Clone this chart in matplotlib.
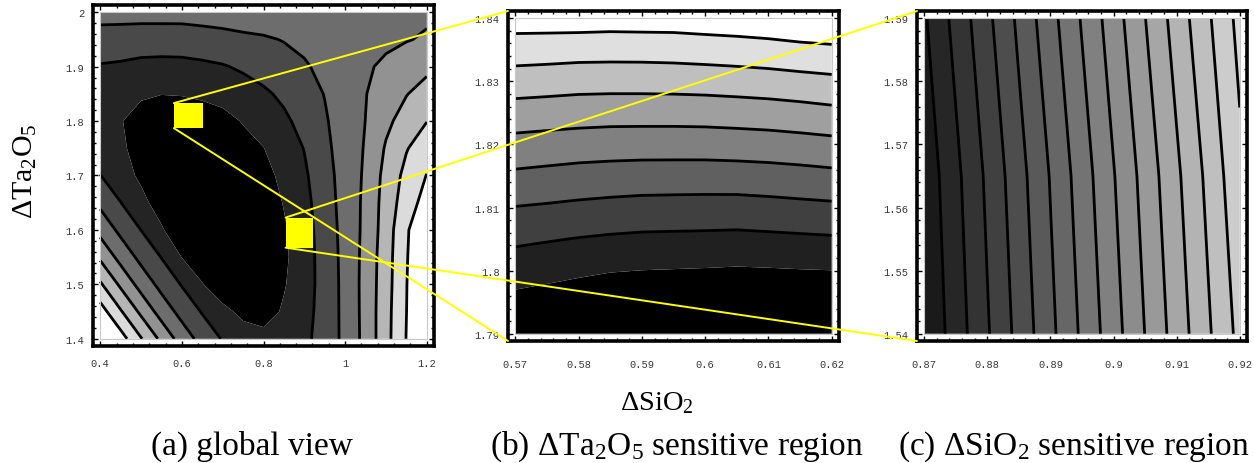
import numpy as np
import matplotlib
matplotlib.use("Agg")
import matplotlib.pyplot as plt
from matplotlib.patches import Rectangle, ConnectionPatch
from matplotlib.ticker import AutoMinorLocator

plt.rcParams["font.family"] = ["Liberation Serif", "DejaVu Serif"]
plt.rcParams["mathtext.fontset"] = "custom"
plt.rcParams["mathtext.rm"] = "Liberation Serif"
plt.rcParams["mathtext.it"] = "Liberation Serif:italic"

# ---------------------------------------------------------------- data
# (a) global view: merit-function level over dSiO2 (x) and dTa2O5 (y)
a_x = np.linspace(0.40, 1.20, 17)
a_y = np.linspace(1.40, 2.00, 13)
a_z = np.array([
    [7.2, 6.43, 5.07, 3.77, 2.55, 1.65, 0.93, 0.55, 0.3, 0.45, 0.8, 1.37, 2.27, 3.3, 4.67, 6.03, 7.3],
    [6.45, 5.1, 3.79, 2.58, 1.67, 0.93, 0.33, -0.285, -0.4, 0.12, 0.68, 1.37, 2.28, 3.32, 4.65, 5.99, 7.2],
    [5.14, 3.82, 2.62, 1.7, 0.94, 0.06, -0.76, -0.95, -0.9, -0.076, 0.6, 1.37, 2.29, 3.33, 4.59, 5.97, 7.1],
    [3.84, 2.66, 1.73, 0.97, -0.02, -0.7, -1.0, -1.05, -0.95, -0.18, 0.58, 1.4, 2.31, 3.3, 4.56, 5.93, 7.0],
    [2.69, 1.76, 0.99, 0.12, -0.76, -1.0, -1.05, -1.0, -0.85, -0.13, 0.62, 1.45, 2.34, 3.24, 4.48, 5.89, 6.8],
    [1.79, 1.02, 0.29, -0.45, -0.8, -0.95, -0.95, -0.85, -0.62, 0.056, 0.71, 1.54, 2.38, 3.21, 4.42, 5.51, 6.4],
    [1.02, 0.43, -0.18, -0.6, -0.8, -0.85, -0.8, -0.6, -0.33, 0.26, 0.85, 1.64, 2.4, 3.15, 4.32, 5.28, 6.03],
    [0.55, 0.1, -0.22, -0.55, -0.7, -0.7, -0.6, -0.35, -0.02, 0.5, 1.03, 1.78, 2.43, 3.08, 4.1, 4.94, 5.54],
    [0.4, 0.04, -0.29, -0.5, -0.55, -0.5, -0.315, 0.065, 0.44, 0.82, 1.31, 1.9, 2.46, 3.01, 3.78, 4.41, 4.98],
    [0.63, 0.51, 0.10, 0.02, 0.05, 0.17, 0.34, 0.56, 0.84, 1.19, 1.61, 2.03, 2.5, 2.97, 3.46, 3.96, 4.39],
    [0.93, 0.86, 0.74, 0.70, 0.72, 0.81, 0.93, 1.14, 1.4, 1.66, 1.91, 2.21, 2.54, 2.87, 3.18, 3.48, 3.78],
    [1.6, 1.57, 1.52, 1.52, 1.53, 1.61, 1.7, 1.82, 1.9, 2.04, 2.2, 2.35, 2.5, 2.65, 2.8, 2.95, 3.1],
    [2.35, 2.35, 2.35, 2.35, 2.35, 2.4, 2.45, 2.5, 2.55, 2.6, 2.62, 2.65, 2.68, 2.72, 2.76, 2.8, 2.85],
])

# (b) dTa2O5 sensitive region
b_x = np.linspace(0.57, 0.62, 11)
b_y = np.linspace(1.79, 1.84, 11)
b_z = np.array([
    [-1.0, -1.19, -1.37, -1.59, -1.64, -1.7, -1.76, -1.83, -1.83, -1.81, -1.81],
    [-0.29, -0.44, -0.6, -0.77, -0.82, -0.87, -0.92, -0.97, -0.95, -0.93, -0.91],
    [0.44, 0.32, 0.18, 0.05, -0.01, -0.04, -0.07, -0.11, -0.08, -0.04, -0.01],
    [1.18, 1.07, 0.96, 0.87, 0.81, 0.79, 0.77, 0.74, 0.79, 0.84, 0.89],
    [1.97, 1.89, 1.8, 1.72, 1.66, 1.64, 1.63, 1.62, 1.68, 1.75, 1.81],
    [2.81, 2.72, 2.63, 2.58, 2.54, 2.53, 2.52, 2.54, 2.59, 2.66, 2.75],
    [3.68, 3.6, 3.52, 3.47, 3.45, 3.45, 3.46, 3.5, 3.55, 3.63, 3.72],
    [4.57, 4.51, 4.45, 4.41, 4.41, 4.41, 4.43, 4.48, 4.54, 4.63, 4.75],
    [5.52, 5.46, 5.39, 5.38, 5.38, 5.4, 5.44, 5.5, 5.57, 5.67, 5.77],
    [6.5, 6.46, 6.41, 6.39, 6.4, 6.43, 6.49, 6.55, 6.63, 6.74, 6.82],
    [7.47, 7.48, 7.49, 7.45, 7.47, 7.47, 7.54, 7.6, 7.68, 7.8, 7.87],
])

# (c) dSiO2 sensitive region
c_x = np.linspace(0.87, 0.92, 11)
c_y = np.array([1.54, 1.565, 1.59])
c_z = np.array([
    [0.054, 1.48, 2.90, 4.32, 5.75, 7.17, 8.59, 10.02, 11.44, 12.86, 14.29],
    [0.32, 1.75, 3.19, 4.63, 6.06, 7.5, 8.94, 10.37, 11.81, 13.25, 14.77],
    [0.877, 2.32, 3.76, 5.21, 6.65, 8.09, 9.53, 10.98, 12.42, 13.86, 15.3],
])

# tick positions and their printed labels
a_xticks = [0.4, 0.6, 0.8, 1.0, 1.2]
a_xlabels = ["0.4", "0.6", "0.8", "1", "1.2"]
a_yticks = [1.4, 1.5, 1.6, 1.7, 1.8, 1.9, 2.0]
a_ylabels = ["1.4", "1.5", "1.6", "1.7", "1.8", "1.9", "2"]
b_xticks = [0.57, 0.58, 0.59, 0.60, 0.61, 0.62]
b_xlabels = ["0.57", "0.58", "0.59", "0.6", "0.61", "0.62"]
b_yticks = [1.79, 1.80, 1.81, 1.82, 1.83, 1.84]
b_ylabels = ["1.79", "1.8", "1.81", "1.82", "1.83", "1.84"]
c_xticks = [0.87, 0.88, 0.89, 0.90, 0.91, 0.92]
c_xlabels = ["0.87", "0.88", "0.89", "0.9", "0.91", "0.92"]
c_yticks = [1.54, 1.55, 1.56, 1.57, 1.58, 1.59]
c_ylabels = ["1.54", "1.55", "1.56", "1.57", "1.58", "1.59"]

# highlighted windows drawn on the global view: [x0, x1, y0, y1]
box_b = [0.5805, 0.651, 1.787, 1.833]
box_c = [0.854, 0.922, 1.5675, 1.6227]

# ---------------------------------------------------------------- figure
W, H = 1254, 464
fig = plt.figure(figsize=(W / 100, H / 100), dpi=100)


def frame_rect(x0, y0, x1, y1):
    return [x0 / W, 1 - y1 / H, (x1 - x0) / W, (y1 - y0) / H]


ax_a = fig.add_axes(frame_rect(93, 6, 434, 347))
ax_b = fig.add_axes(frame_rect(508, 12, 839, 342))
ax_c = fig.add_axes(frame_rect(917, 12, 1247, 342))


def grays(vals):
    return [(v, v, v) for v in vals]


tick_font = dict(family=["Liberation Mono", "DejaVu Sans Mono"], size=7.5)


def panel(ax, xs, ys, z, fill_levels, fill_cols, line_levels, pad,
          xt, xl, yt, yl, ypad, xpad):
    ax.contourf(xs, ys, z, levels=fill_levels, colors=fill_cols,
                antialiased=True)
    ax.contour(xs, ys, z, levels=line_levels, colors="black",
               linewidths=2.0)
    x0, x1 = xs[0], xs[-1]
    y0, y1 = ys[0], ys[-1]
    ax.add_patch(Rectangle((x0, y0), x1 - x0, y1 - y0, fill=False,
                           edgecolor="#c8c8c8", lw=0.8, zorder=3))
    ax.set_xlim(x0 - pad * (x1 - x0), x1 + pad * (x1 - x0))
    ax.set_ylim(y0 - pad * (y1 - y0), y1 + pad * (y1 - y0))
    ax.set_xticks(xt)
    ax.set_xticklabels(xl, fontdict=tick_font, color="#3a3a3a")
    ax.set_yticks(yt)
    ax.set_yticklabels(yl, fontdict=tick_font, color="#3a3a3a")
    ax.xaxis.set_minor_locator(AutoMinorLocator(5))
    ax.yaxis.set_minor_locator(AutoMinorLocator(5))
    ax.tick_params(which="both", direction="in", top=True, right=True,
                   width=1.0, color="black")
    ax.tick_params(which="major", length=3.5)
    ax.tick_params(which="minor", length=2.0)
    ax.tick_params(axis="y", pad=ypad)
    ax.tick_params(axis="x", pad=xpad)
    for s in ax.spines.values():
        s.set_linewidth(2.6)
        s.set_color("black")
    ax.set_facecolor("white")


# (a): 8 gray bands, black floor has no outline
panel(ax_a, a_x, a_y, a_z,
      [-10, 0, 1, 2, 3, 4, 5, 6, 20],
      grays([k / 7 for k in range(8)]),
      [1, 2, 3, 4, 5, 6], 0.022,
      a_xticks, a_xlabels, a_yticks, a_ylabels, 6.5, 9)

# (b): 9 gray bands
panel(ax_b, b_x, b_y, b_z,
      [-10, 0, 1, 2, 3, 4, 5, 6, 7, 20],
      grays([k / 8 for k in range(9)]),
      [1, 2, 3, 4, 5, 6, 7], 0.023,
      b_xticks, b_xlabels, b_yticks, b_ylabels, 6.0, 13)

# (c): 16 gray bands, all separated by lines
panel(ax_c, c_x, c_y, c_z,
      [-10] + list(range(1, 16)) + [100],
      grays([(k + 2) / 20 for k in range(16)]),
      list(range(1, 16)), 0.023,
      c_xticks, c_xlabels, c_yticks, c_ylabels, 6.0, 13)

# yellow windows and their leader lines
yellow = "#ffff00"
for box, target in ((box_b, ax_b), (box_c, ax_c)):
    x0, x1, y0, y1 = box
    ax_a.add_patch(Rectangle((x0, y0), x1 - x0, y1 - y0, facecolor=yellow,
                             edgecolor="none", zorder=6))
    for ya, yb in ((y1, 1.0), (y0, 0.0)):
        con = ConnectionPatch(xyA=(x0, ya), coordsA=ax_a.transData,
                              xyB=(0.0, yb), coordsB=target.transAxes,
                              color=yellow, lw=1.4, zorder=20)
        fig.add_artist(con)

# axis titles and captions
label_size = 20.5
caption_size = 24
fig.text(25 / W, 1 - 171 / H, "ΔTa$_2$O$_5$", rotation=90, ha="center",
         va="center", fontsize=21.5)
fig.text(657 / W, 1 - 410 / H, "ΔSiO$_2$", ha="center", va="baseline",
         fontsize=label_size)
fig.text(252 / W, 1 - 455 / H, "(a) global view", ha="center",
         va="baseline", fontsize=caption_size)
fig.text(677 / W, 1 - 455 / H, "(b) ΔTa$_2$O$_5$ sensitive region",
         ha="center", va="baseline", fontsize=caption_size)
fig.text(1074 / W, 1 - 455 / H, "(c) ΔSiO$_2$ sensitive region",
         ha="center", va="baseline", fontsize=caption_size)

fig.savefig("out.png", dpi=100)
